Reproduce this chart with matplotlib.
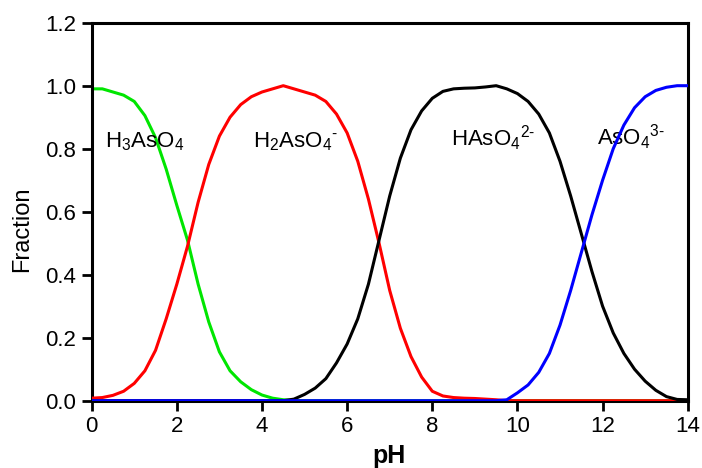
import numpy as np
import matplotlib
matplotlib.use('Agg')
import matplotlib.pyplot as plt

plt.rcParams['font.family'] = ['Liberation Sans', 'DejaVu Sans']
plt.rcParams['mathtext.fontset'] = 'custom'
plt.rcParams['mathtext.rm'] = 'Liberation Sans'
plt.rcParams['mathtext.default'] = 'regular'

# pH grid and species fractions of arsenic acid
ph = np.arange(0, 14.25, 0.25)

h3aso4 = [0.99, 0.99, 0.98, 0.97, 0.95, 0.905, 0.835, 0.735, 0.62, 0.51,
          0.37, 0.25, 0.155, 0.095, 0.06, 0.035, 0.018, 0.008, 0.003, 0.001] + [0.0] * 37

h2aso4 = [0.008, 0.01, 0.017, 0.03, 0.055, 0.095, 0.16, 0.26, 0.37, 0.49,
          0.63, 0.75, 0.84, 0.90, 0.94, 0.965, 0.98, 0.99, 1.0, 0.99,
          0.98, 0.97, 0.95, 0.91, 0.85, 0.76, 0.64, 0.50, 0.35, 0.23,
          0.14, 0.075, 0.03, 0.015, 0.01, 0.008, 0.007, 0.005, 0.003, 0.0] + [0.0] * 17

haso4 = [0.0] * 18 + [0.0, 0.005, 0.02, 0.04, 0.07, 0.12, 0.18, 0.26, 0.37, 0.51,
                      0.65, 0.77, 0.86, 0.92, 0.96, 0.982, 0.99, 0.992, 0.993, 0.996,
                      1.0, 0.99, 0.975, 0.95, 0.91, 0.85, 0.76, 0.65, 0.53, 0.41,
                      0.30, 0.215, 0.15, 0.10, 0.062, 0.033, 0.013, 0.004, 0.003]

aso4 = [0.0] * 39 + [0.003, 0.025, 0.05, 0.09, 0.15, 0.24, 0.35, 0.47, 0.59,
                     0.70, 0.80, 0.875, 0.93, 0.965, 0.985, 0.995, 1.0, 1.0]

fig = plt.figure(figsize=(7.02, 4.68), dpi=100)
ax = fig.add_axes([0.1306, 0.1438, 0.8491, 0.8077])

ax.plot(ph, h3aso4, color='#00e600', lw=2.2, zorder=2)
ax.plot(ph, h2aso4, color='#ff0000', lw=2.2, zorder=3)
ax.plot(ph, haso4, color='black', lw=2.2, zorder=4)
ax.plot(ph, aso4, color='#0000ff', lw=2.2, zorder=5)

# species names (hyphen charges, not minus signs)
ax.text(0.31, 0.805, r'H$_3$AsO$_4$', fontsize=16, ha='left', va='baseline')
ax.text(3.78, 0.805, r'H$_2$AsO$_4$$^{\text{-}}$', fontsize=16, ha='left', va='baseline')
ax.text(8.44, 0.809, r'HAsO$_4$$^{\text{2-}}$', fontsize=16, ha='left', va='baseline')
ax.text(11.86, 0.811, r'AsO$_4$$^{\text{3-}}$', fontsize=16, ha='left', va='baseline')

ax.set_xlim(0, 14)
ax.set_ylim(0, 1.2)
ax.set_xticks(range(0, 15, 2))
ax.set_yticks([0.0, 0.2, 0.4, 0.6, 0.8, 1.0, 1.2])
ax.set_yticklabels(['0.0', '0.2', '0.4', '0.6', '0.8', '1.0', '1.2'])

for s in ax.spines.values():
    s.set_linewidth(2.2)
ax.tick_params(direction='out', length=7, width=2, labelsize=16)
ax.tick_params(axis='x', pad=4)
ax.tick_params(axis='y', pad=4)

fig.text(22 / 702, 1 - 229 / 468, 'Fraction', rotation=90, fontsize=17,
         ha='center', va='center')
fig.text(389 / 702, 1 - 456 / 468, 'pH', fontsize=18, fontweight='bold',
         ha='center', va='center')

plt.savefig('out.png', dpi=100)
